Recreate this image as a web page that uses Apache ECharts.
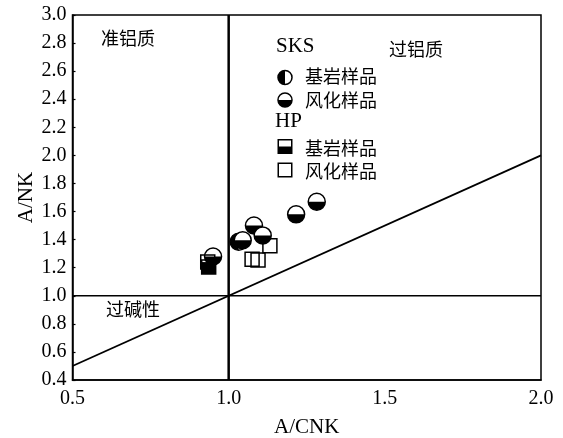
<!DOCTYPE html>
<html>
<head>
<meta charset="utf-8">
<script src="https://cdn.jsdelivr.net/npm/echarts@6/dist/echarts.min.js"></script>
<style>
  html, body { margin: 0; padding: 0; background: #fff; }
  #chart { width: 563px; height: 438px; }
</style>
</head>
<body>
<div id="chart"></div>
<script>
// A/CNK vs A/NK discrimination diagram
const xRange = [0.5, 2.0];
const yRange = [0.4, 3.0];

// Field boundaries: A/CNK = 1, A/NK = 1 and the 1:1 line
const lineVertical = [[1.0, 0.4], [1.0, 3.0]];
const lineHorizontal = [[0.5, 1.0], [2.0, 1.0]];
const lineDiagonal = [[0.5, 0.5], [2.0, 2.0]];

// SKS samples
const sksBedrock = [[1.032, 1.385]];
const sksWeathered = [[0.950, 1.28], [1.045, 1.395], [1.081, 1.50], [1.109, 1.43], [1.216, 1.58], [1.282, 1.67]];
// HP samples
const hpBedrock = [[0.933, 1.24], [0.936, 1.205]];
const hpWeathered = [[1.075, 1.26], [1.094, 1.255], [1.132, 1.356]];

const SERIF = '"Liberation Serif", "Times New Roman", serif';
const CJK = '"Noto Sans CJK SC", sans-serif';
const R = 8.5;   // circle radius
const S = 14;    // square size

function circleShape(cx, cy, r, half) {
  const start = half === 'left' ? Math.PI / 2 : 0;
  const end = half === 'left' ? Math.PI * 3 / 2 : Math.PI;
  return [
    { type: 'circle', shape: { cx, cy, r }, style: { fill: '#fff' } },
    { type: 'sector', shape: { cx, cy, r, r0: 0, startAngle: start, endAngle: end, clockwise: true }, style: { fill: '#000' } },
    { type: 'circle', shape: { cx, cy, r }, style: { fill: null, stroke: '#000', lineWidth: 1.5 } }
  ];
}
function squareShape(cx, cy, s, filled) {
  const out = [];
  if (filled) {
    out.push({ type: 'rect', shape: { x: cx - s / 2, y: cy, width: s, height: s / 2 }, style: { fill: '#000' } });
  }
  out.push({ type: 'rect', shape: { x: cx - s / 2, y: cy - s / 2, width: s, height: s }, style: { fill: null, stroke: '#000', lineWidth: 1.5 } });
  return out;
}

function circleRender(half) {
  return function (params, api) {
    const p = api.coord([api.value(0), api.value(1)]);
    return { type: 'group', children: circleShape(p[0], p[1], R, half) };
  };
}
function squareRender(filled) {
  return function (params, api) {
    const p = api.coord([api.value(0), api.value(1)]);
    return { type: 'group', children: squareShape(p[0], p[1], S, filled) };
  };
}

function refLine(data, width) {
  return {
    type: 'line', data, symbol: 'none', silent: true,
    lineStyle: { color: '#000', width }, z: 2
  };
}

// text centred vertically on y
function cjkText(x, y, text) {
  return { type: 'text', x, y, style: { text, fill: '#000', font: '18px ' + CJK, textAlign: 'left', textVerticalAlign: 'middle' } };
}
// serif heading with its baseline at y
function serifText(x, y, text) {
  return { type: 'text', x, y, style: { text, fill: '#000', font: '21px ' + SERIF, textAlign: 'left', textBaseline: 'alphabetic', textVerticalAlign: 'bottom' } };
}

// Legend block and field names
const legendGraphics = [
  serifText(276, 57, 'SKS'),
  { type: 'group', children: circleShape(285, 77.5, 7, 'left') },
  cjkText(305, 76, '基岩样品'),
  { type: 'group', children: circleShape(285, 100, 7, 'bottom') },
  cjkText(305, 100, '风化样品'),
  serifText(275, 132, 'HP'),
  { type: 'group', children: squareShape(285, 146.5, 13.5, true) },
  cjkText(305, 148, '基岩样品'),
  { type: 'group', children: squareShape(285, 170, 13.5, false) },
  cjkText(305, 171, '风化样品'),
  cjkText(101, 38, '准铝质'),
  cjkText(389, 49, '过铝质'),
  cjkText(106, 309, '过碱性')
];

const chart = echarts.init(document.getElementById('chart'));
chart.setOption({
  animation: false,
  backgroundColor: '#fff',
  grid: {
    left: 72.5, right: 22, top: 15, bottom: 58,
    containLabel: false, outerBoundsMode: 'none',
    show: true, borderColor: '#000', borderWidth: 1.5, backgroundColor: 'transparent'
  },
  xAxis: {
    type: 'value', min: xRange[0], max: xRange[1], interval: 0.5,
    name: 'A/CNK', nameLocation: 'middle', nameGap: 37, nameMoveOverlap: false,
    nameTextStyle: { fontFamily: SERIF, fontSize: 21, color: '#000' },
    axisLine: { show: true, lineStyle: { color: '#000', width: 1.5 } },
    axisTick: { show: false },
    splitLine: { show: false },
    axisLabel: { fontFamily: SERIF, fontSize: 20, color: '#000', margin: 9, formatter: v => v.toFixed(1) }
  },
  yAxis: {
    type: 'value', min: yRange[0], max: yRange[1], interval: 0.2,
    name: 'A/NK', nameLocation: 'middle', nameGap: 36, nameMoveOverlap: false,
    nameTextStyle: { fontFamily: SERIF, fontSize: 21, color: '#000' },
    axisLine: { show: true, lineStyle: { color: '#000', width: 1.5 } },
    axisTick: { show: true, inside: true, length: 3, lineStyle: { color: '#000', width: 1.2 } },
    splitLine: { show: false },
    axisLabel: { fontFamily: SERIF, fontSize: 20, color: '#000', margin: 6, formatter: v => v.toFixed(1) }
  },
  series: [
    refLine(lineVertical, 2.5),
    refLine(lineHorizontal, 1.5),
    refLine(lineDiagonal, 1.8),
    { type: 'custom', name: 'SKS 基岩样品', data: sksBedrock, renderItem: circleRender('left'), z: 3 },
    { type: 'custom', name: 'SKS 风化样品', data: sksWeathered, renderItem: circleRender('bottom'), z: 3 },
    { type: 'custom', name: 'HP 基岩样品', data: hpBedrock, renderItem: squareRender(true), z: 4 },
    { type: 'custom', name: 'HP 风化样品', data: hpWeathered, renderItem: squareRender(false), z: 4 }
  ],
  graphic: legendGraphics
});
</script>
</body>
</html>
